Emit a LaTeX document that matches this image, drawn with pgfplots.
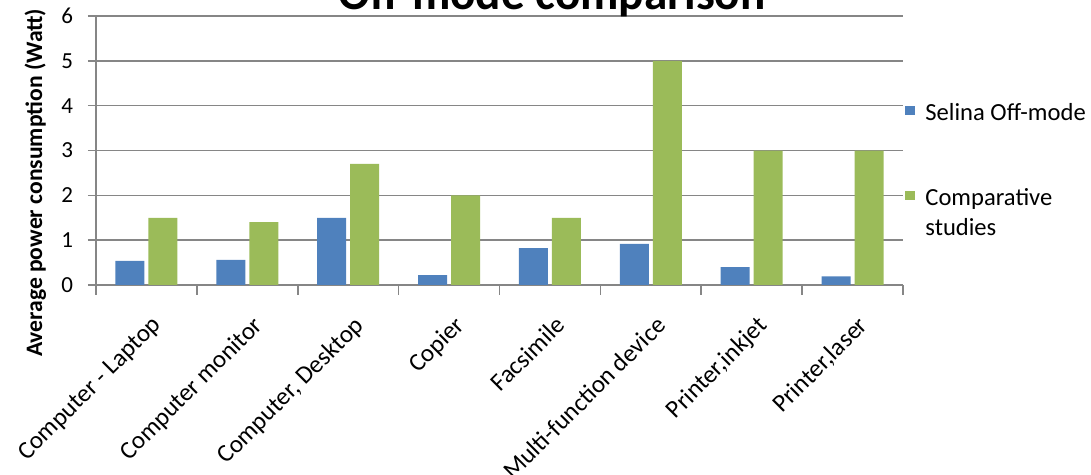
\documentclass[border=0pt]{standalone}
\usepackage{pgfplots}
\pgfplotsset{compat=1.18}
\usepackage{fontspec}
\setmainfont{Carlito}
\definecolor{sblue}{HTML}{4F81BD}
\definecolor{sgreen}{HTML}{9BBB59}
\definecolor{axgray}{HTML}{868686}
\pgfplotstableread{
x selina comp
0 0.54 1.5
1 0.56 1.4
2 1.50 2.7
3 0.22 2.0
4 0.82 1.5
5 0.92 5.0
6 0.40 3.0
7 0.19 3.0
}\datatab
\begin{document}
\begin{tikzpicture}
\begin{axis}[
  scale only axis,
  width=403.5pt, height=134.5pt,
  ybar, bar width=14.5pt,
  xmin=-0.5, xmax=7.5, ymin=0, ymax=6,
  axis x line*=bottom, axis y line*=left,
  axis line style={axgray, line width=0.8pt},
  xtick={0,...,7},
  xticklabels={Computer - Laptop, Computer monitor, {Computer, Desktop}, Copier, Facsimile, Multi-function device, {Printer,inkjet}, {Printer,laser}},
  major x tick style={draw=none},
  minor xtick={-0.5,0.5,...,7.5},
  minor x tick style={axgray, line width=0.8pt},
  minor tick length=5pt,
  ytick={0,...,6},
  major y tick style={axgray, line width=0.8pt},
  major tick length=4pt,
  tick align=outside,
  ymajorgrids, grid style={axgray, line width=0.8pt},
  xticklabel style={rotate=45, anchor=north east, font=\fontsize{12.5}{15}\selectfont, inner sep=1pt, yshift=-8pt, xshift=-5pt},
  yticklabel style={font=\fontsize{11.5}{13}\selectfont, xshift=-4pt},
  /pgf/number format/assume math mode=true,
  ylabel={\textbf{Average power consumption (Watt)}},
  ylabel style={font=\fontsize{11.8}{14}\selectfont, at={(axis description cs:-0.075,0.38)}, anchor=center},
  legend style={draw=none, fill=none, at={(axis description cs:1.0025,0.69)}, anchor=north west, font=\fontsize{12.3}{15}\selectfont, row sep=28.5pt, inner sep=0pt},
  legend cell align=left,
  legend image code/.code={\fill[#1] (0pt,-0.6pt) rectangle (4.6pt,4.0pt); \path (8pt,0pt);},
]
\addplot[fill=sblue, draw=none] table[x=x, y=selina] {\datatab};
\addplot[fill=sgreen, draw=none] table[x=x, y=comp] {\datatab};
\legend{Selina Off-mode, \parbox[t]{70pt}{Comparative\\studies}}
\end{axis}
\node[anchor=base, font=\fontsize{23.6}{28}\selectfont\bfseries] at (228pt,137.5pt) {Off-mode comparison};
\pgfresetboundingbox
\path[use as bounding box] (-48pt,-95pt) rectangle (497.5pt,142.5pt);
\end{tikzpicture}
\end{document}
